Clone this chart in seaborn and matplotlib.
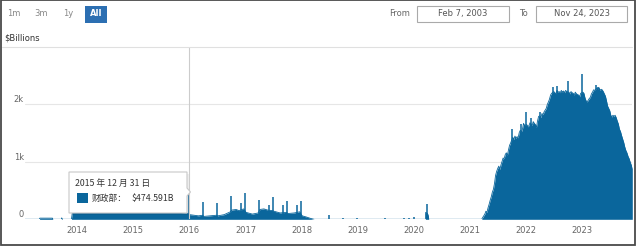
import matplotlib
matplotlib.use("Agg")
import matplotlib.pyplot as plt
from matplotlib.patches import Rectangle, Polygon
from matplotlib.lines import Line2D
import seaborn as sns
import pandas as pd

# ---------------- data ----------------
base_dates = [
    "2013-01-27", "2013-05-01", "2013-05-03", "2013-07-25", "2013-07-27",
    "2013-09-20", "2013-09-23", "2013-09-27", "2013-11-25", "2013-12-02",
    "2014-03-01", "2014-06-01", "2014-09-01", "2014-12-01", "2015-03-01",
    "2015-06-01", "2015-09-01", "2015-12-15",
    "2016-01-05", "2016-03-01", "2016-03-28", "2016-04-05", "2016-06-25",
    "2016-07-05", "2016-08-15", "2016-09-25", "2016-10-05", "2016-11-01",
    "2016-11-20", "2016-12-20", "2017-01-05", "2017-02-15", "2017-03-25",
    "2017-04-05", "2017-05-01", "2017-05-25", "2017-06-25", "2017-07-05",
    "2017-08-15", "2017-09-25", "2017-10-05", "2017-11-15", "2017-12-20",
    "2018-01-05", "2018-02-01", "2018-03-01", "2018-03-25",
    "2020-03-17", "2020-03-19", "2020-03-31", "2020-04-05", "2020-04-08",
    "2021-03-18", "2021-03-25", "2021-04-01", "2021-04-08", "2021-04-15",
    "2021-04-22", "2021-04-29", "2021-05-06", "2021-05-13", "2021-05-20",
    "2021-05-27", "2021-06-03", "2021-06-10", "2021-06-17", "2021-06-24",
    "2021-07-01", "2021-07-08", "2021-07-15", "2021-07-22", "2021-07-29",
    "2021-08-05", "2021-08-12", "2021-08-19", "2021-08-26", "2021-09-02",
    "2021-09-09", "2021-09-16", "2021-09-23", "2021-10-07", "2021-10-14",
    "2021-10-21", "2021-10-28", "2021-11-04", "2021-11-11", "2021-11-18",
    "2021-11-25", "2021-12-02", "2021-12-09", "2021-12-16", "2021-12-23",
    "2022-01-06", "2022-01-13", "2022-01-20", "2022-01-27", "2022-02-03",
    "2022-02-10", "2022-02-17", "2022-02-24", "2022-03-03", "2022-03-10",
    "2022-03-17", "2022-03-24", "2022-04-01", "2022-04-08", "2022-04-15",
    "2022-04-22", "2022-04-29", "2022-05-06", "2022-05-13", "2022-05-20",
    "2022-05-27", "2022-06-03", "2022-06-10", "2022-06-17", "2022-07-01",
    "2022-07-08", "2022-07-15", "2022-07-22", "2022-07-29", "2022-08-05",
    "2022-08-12", "2022-08-19", "2022-08-26", "2022-09-02", "2022-09-09",
    "2022-09-16", "2022-09-23", "2022-10-07", "2022-10-14", "2022-10-21",
    "2022-10-28", "2022-11-04", "2022-11-11", "2022-11-18", "2022-11-25",
    "2022-12-02", "2022-12-09", "2022-12-16", "2022-12-23", "2023-01-06",
    "2023-01-13", "2023-01-20", "2023-01-27", "2023-02-03", "2023-02-10",
    "2023-02-17", "2023-02-24", "2023-03-03", "2023-03-10", "2023-03-17",
    "2023-03-24", "2023-04-07", "2023-04-14", "2023-04-21", "2023-04-28",
    "2023-05-05", "2023-05-12", "2023-05-19", "2023-05-26", "2023-06-02",
    "2023-06-09", "2023-06-16", "2023-06-23", "2023-06-30", "2023-07-07",
    "2023-07-14", "2023-07-21", "2023-07-28", "2023-08-04", "2023-08-11",
    "2023-08-18", "2023-08-25", "2023-09-01", "2023-09-08", "2023-09-15",
    "2023-09-22", "2023-09-29", "2023-10-06", "2023-10-13", "2023-10-20",
    "2023-10-27", "2023-11-03", "2023-11-10", "2023-11-17", "2023-11-24",
]
base_values = [
    0, 0, 20, 20, 0,
    0, 25, 0, 0, 120,
    130, 140, 150, 160, 140,
    130, 130, 110,
    80, 60, 70, 50, 70,
    60, 80, 130, 160, 170,
    150, 180, 120, 90, 110,
    170, 180, 160, 150, 140,
    110, 120, 100, 110, 130,
    60, 40, 15, 0,
    0, 120, 100, 60, 0,
    0, 30, 60, 90, 140,
    120, 200, 260, 330, 390,
    470, 520, 620, 760, 830,
    880, 920, 860, 940, 1000,
    1060, 1050, 1120, 1150, 1110,
    1200, 1280, 1320, 1420, 1380,
    1440, 1400, 1430, 1410, 1500,
    1540, 1510, 1560, 1660, 1620,
    1640, 1600, 1620, 1670, 1650,
    1620, 1690, 1660, 1640, 1590,
    1700, 1780, 1790, 1760, 1830,
    1810, 1860, 1890, 1920, 1990,
    2030, 2080, 2150, 2180, 2210,
    2190, 2170, 2230, 2200, 2210,
    2190, 2230, 2200, 2220, 2190,
    2230, 2210, 2200, 2170, 2210,
    2190, 2180, 2150, 2200, 2170,
    2160, 2150, 2120, 2180, 2200,
    2180, 2100, 2050, 2030, 2060,
    2090, 2110, 2170, 2200, 2240,
    2230, 2270, 2250, 2280, 2230,
    2250, 2240, 2210, 2170, 2130,
    2050, 1960, 1920, 1880, 1800,
    1770, 1800, 1780, 1800, 1760,
    1700, 1650, 1560, 1520, 1450,
    1390, 1330, 1250, 1190, 1150,
    1090, 1050, 990, 940, 880,
]

spike_dates = [
    "2014-03-31", "2014-06-30", "2014-09-30", "2014-12-31", "2015-03-31",
    "2015-06-30", "2015-09-30", "2015-12-31",
    "2016-03-31", "2016-06-30", "2016-09-30", "2016-11-30", "2016-12-30",
    "2017-03-31", "2017-05-31", "2017-06-30", "2017-08-31", "2017-09-29",
    "2017-11-30", "2017-12-29",
    "2018-06-29", "2018-09-28", "2018-12-31", "2019-06-28", "2019-10-31",
    "2019-11-29", "2019-12-31", "2020-03-25",
    "2021-09-30", "2021-11-30", "2021-12-31", "2022-01-31", "2022-03-31",
    "2022-06-24", "2022-07-20", "2022-09-30", "2022-12-30", "2023-03-31",
    "2023-04-12",
]
spike_values = [
    240, 340, 400, 400, 300,
    300, 300, 474.591,
    300, 280, 400, 280, 460,
    340, 250, 390, 250, 310,
    240, 320,
    70, 30, 25, 25, 20,
    25, 40, 260,
    1570, 1650, 1860, 1760, 1850,
    2290, 2300, 2390, 2510, 2330,
    2290,
]

year_ticks = ["2014-01-01", "2015-01-01", "2016-01-01", "2017-01-01", "2018-01-01",
              "2019-01-01", "2020-01-01", "2021-01-01", "2022-01-01", "2023-01-01"]
year_labels = ["2014", "2015", "2016", "2017", "2018", "2019", "2020", "2021", "2022", "2023"]
y_ticks = [0, 1000, 2000]
y_labels = ["0", "1k", "2k"]

series_name = "财政部："
tooltip_date = "2015 年 12 月 31 日"
tooltip_value = "$474.591B"
hover_date = "2015-12-31"

# ---------------- style ----------------
sns.set_theme(style="white")
plt.rcParams["font.family"] = ["DejaVu Sans"]
BLUE = "#0a669c"

W, H = 640, 249
fig = plt.figure(figsize=(W / 100, H / 100), dpi=100)


def fx(x):
    return x / W


def fy(y):
    return 1 - y / H


ax_left, ax_right, ax_top, ax_bot = 25, 632.3, 47, 219.3
ax = fig.add_axes([fx(ax_left), fy(ax_bot), fx(ax_right - ax_left), (ax_bot - ax_top) / H])
ymax = (ax_bot - ax_top) / 57.8 * 1000

bd = pd.to_datetime(base_dates)
sd = pd.to_datetime(spike_dates)

ax.fill_between(bd, 0, base_values, color=BLUE, lw=0, zorder=2)
sns.lineplot(x=bd, y=base_values, ax=ax, color=BLUE, lw=0.6, zorder=3)
ax.vlines(sd, 0, spike_values, color=BLUE, lw=1.1, zorder=3)

ax.set_xlim(pd.Timestamp("2013-01-27"), pd.Timestamp("2023-11-24"))
ax.set_ylim(0, ymax)
for v in y_ticks[1:]:
    ax.axhline(v, color="#e6e6e6", lw=0.8, zorder=1)
ax.axhline(0, color="#ccd6eb", lw=0.8, zorder=1)
for s in ax.spines.values():
    s.set_visible(False)
ax.set_yticks([])
ax.set_xticks(pd.to_datetime(year_ticks))
ax.set_xticklabels(year_labels, fontsize=6, color="#666666")
ax.tick_params(axis="x", length=0, pad=4.5)
ax.set_xlabel("")
ax.set_ylabel("")
ax.grid(False)

for v, lab in zip(y_ticks, y_labels):
    ax.annotate(lab, xy=(0, v), xycoords=ax.get_yaxis_transform(), xytext=(-1, 2),
                textcoords="offset pixels", ha="right", va="baseline",
                fontsize=6, color="#666666", annotation_clip=False)

# crosshair
ax.axvline(pd.Timestamp(hover_date), color="#cccccc", lw=0.8, zorder=4)

# top separator line
fig.add_artist(Line2D([fx(2), fx(632)], [fy(47), fy(47)], color="#e0e0e0", lw=0.8))

# tooltip
shadow = Polygon([(fx(71), fy(174)), (fx(189), fy(174)), (fx(189), fy(215)), (fx(71), fy(215))],
                 closed=True, transform=fig.transFigure, facecolor="#000000", alpha=0.06,
                 edgecolor="none", zorder=9)
fig.add_artist(shadow)
tip = Polygon([(fx(69), fy(172)), (fx(187), fy(172)), (fx(187), fy(188)), (fx(190.5), fy(192)),
               (fx(187), fy(196)), (fx(187), fy(213)), (fx(69), fy(213))],
              closed=True, transform=fig.transFigure, facecolor="white",
              edgecolor="#c8c8c8", lw=0.8, zorder=10)
fig.add_artist(tip)
cjk = ["Noto Sans CJK SC", "DejaVu Sans"]
fig.text(fx(75), fy(183.5), tooltip_date, fontsize=6.3, color="#333333", family=cjk,
         va="center", ha="left", zorder=11)
fig.add_artist(Rectangle((fx(77), fy(203)), fx(11), 10 / H, transform=fig.transFigure,
                         facecolor=BLUE, edgecolor="none", zorder=11))
fig.text(fx(92), fy(198.5), series_name, fontsize=6.3, color="#333333", family=cjk,
         va="center", ha="left", zorder=11)
fig.text(fx(132), fy(198.5), tooltip_value, fontsize=6.3, color="#333333", family=cjk,
         va="center", ha="left", zorder=11)

# range selector
for lab, cx in zip(["1m", "3m", "1y"], [14, 41, 68]):
    fig.text(fx(cx), fy(14), lab, fontsize=6, color="#888888", ha="center", va="center")
fig.add_artist(Rectangle((fx(85), fy(23)), fx(22), 17 / H, transform=fig.transFigure,
                         facecolor="#2c6fb2", edgecolor="none"))
fig.text(fx(96), fy(14), "All", fontsize=6, color="white", fontweight="bold",
         ha="center", va="center")

# From / To inputs
fig.text(fx(400), fy(13.5), "From", fontsize=6, color="#666666", ha="center", va="center")
fig.add_artist(Rectangle((fx(417), fy(22)), fx(92), 16 / H, transform=fig.transFigure,
                         facecolor="white", edgecolor="#aaaaaa", lw=0.8))
fig.text(fx(463), fy(13.5), "Feb 7, 2003", fontsize=6, color="#555555", ha="center", va="center")
fig.text(fx(523), fy(13.5), "To", fontsize=6, color="#666666", ha="center", va="center")
fig.add_artist(Rectangle((fx(536), fy(22)), fx(91), 16 / H, transform=fig.transFigure,
                         facecolor="white", edgecolor="#aaaaaa", lw=0.8))
fig.text(fx(581.5), fy(13.5), "Nov 24, 2023", fontsize=6, color="#555555", ha="center", va="center")

fig.text(fx(4), fy(38), "$Billions", fontsize=6, color="#333333", ha="left", va="center")

# outer frame
fig.add_artist(Rectangle((fx(1), fy(245)), fx(634), 245 / H, transform=fig.transFigure,
                         facecolor="none", edgecolor="#4a4a4a", lw=1.3, zorder=20))

fig.savefig("out.png", dpi=100)
